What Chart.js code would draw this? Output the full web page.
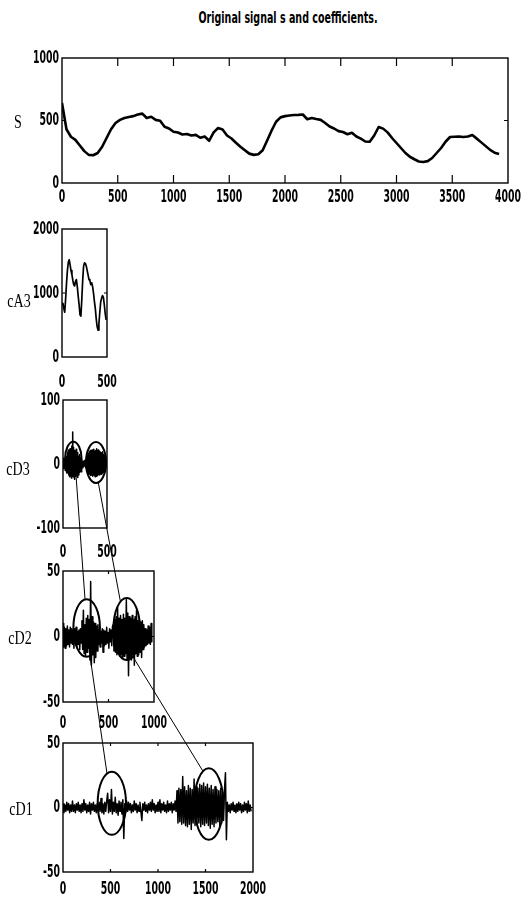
<!DOCTYPE html>
<html>
<head>
<meta charset="utf-8">
<script src="https://cdn.jsdelivr.net/npm/chart.js@4.4.1/dist/chart.umd.min.js"></script>
<style>
  html, body { margin: 0; padding: 0; background: #fff; }
  #page { position: relative; width: 528px; height: 906px; overflow: hidden; background: #fff; }
  .panel { position: absolute; }
  #overlay { position: absolute; left: 0; top: 0; z-index: 10; pointer-events: none; }
  #title {
    position: absolute; left: 128px; width: 320px; top: 8px; text-align: center; white-space: nowrap;
    font-family: 'DejaVu Sans', sans-serif; font-weight: bold;
    font-size: 15px; color: #000;
    transform: scale(0.635, 1.08); transform-origin: center top;
  }
</style>
</head>
<body>
<div id="page">
  <div id="title">Original signal s and coefficients.</div>
  <canvas id="overlay" width="528" height="906"></canvas>
</div>
<script>
// ---- signal and wavelet coefficients (sampled values) ----
const sStep = 40;
const sValues = [
  640, 430, 370, 345, 300, 255, 225, 222, 240, 290,
  360, 430, 480, 505, 520, 528, 535, 548, 555, 520,
  530, 505, 498, 450, 436, 410, 404, 388, 392, 380,
  385, 362, 372, 338, 405, 440, 428, 380, 356, 322,
  290, 262, 235, 225, 230, 262, 340, 420, 490, 525,
  535, 540, 544, 545, 548, 510, 520, 512, 505, 480,
  452, 436, 415, 408, 390, 402, 372, 355, 332, 330,
  380, 448, 435, 405, 360, 320, 280, 240, 210, 190,
  172, 168, 175, 200, 240, 280, 330, 368, 370, 372,
  368, 372, 384, 355, 325, 295, 265, 242, 232
];

const cA3Step = 10;
const cA3Values = [
  820, 840, 760, 700, 900, 1150, 1350, 1480, 1520, 1440,
  1350, 1290, 1200, 1130, 1110, 1180, 1210, 1100, 950, 820,
  660, 640, 900, 1200, 1420, 1470, 1460, 1420, 1350, 1280,
  1210, 1190, 1130, 1160, 1100, 1000, 870, 760, 600, 480,
  420, 520, 700, 860, 920, 960, 930, 820, 680, 580
];

const cD3Step = 5;
const cD3Values = [
  3, -7, 9, -5, 6, -10, 8, -4, 12,
  -14, 18, -12, 22, -17, 15, -20, 24, -16, 19,
  -22, 28, -18, 50, -15, 26, -20, 21, -24, 17,
  -19, 23, -15, 18, -21, 14, -17, 12, -13, 15,
  -10, 9, -12, 7,
  -5, 4, -6, 3, -4, 5, -3, 6, -5, 4, -6,
  8, -10, 14, -12, 17, -15, 19, -16, 21, -18,
  18, -17, 22, -19, 20, -16, 23, -18, 19, -20,
  21, -17, 24, -19, 20, -18, 22, -16, 19, -17,
  20, -15, 18, -16, 17, -14, 19, -13, 15, -12,
  13, -10, 11, -8, 6
];

const cD2Step = 8;
const cD2Values = [
  10, -8, 7, -9, 6, -7, 8, -6, 5, -8, 7, -5, 6,
  -6, 5, -9, 6, -4, 7, -8, 4, -6, 5, -10, 6, -5,
  12, -10, 20, -13, 9, -15, 14, -12, 16, -9, 13, -18, 42, -22, 15, -14, 11, -20, 10, -16, 8, -11, 9,
  -6, 5, -8, 4, -5, 6, -12, 5, -7, 4, -6, 7, -5, 3, -9, 6, -4, 5, -7, 8,
  9, -11, 13, -12, 15, -14, 22, -13, 14, -15,
  16, -14, 13, -16, 17, -15, 14, -13, 28, -17,
  18, -30, 15, -16, 14, -18, 16, -14, 13, -22,
  15, -13, 20, -15, 12, -14, 13, -12, 11, -16,
  12, -10, 9, -8,
  6, -7, 5, -6, 8, -5, 7, -6, 10, -4
];

const cD1Step = 10;
const cD1Values = [
  3, -4, 2, -3, 4, -2, 3, -4, 2, -3,
  5, -3, 2, -4, 3, -2, 4, -3, 2, -4,
  3, -3, 6, -2, 3, -4, 2, -3, 4, -5,
  3, -2, 4, -3, 2, -4, 3, -2, 4,
  -3, 7, -4, 3, -5, 4, -3, 5, 11, -4,
  6, -3, 14, -5, 4, -3, 8, -4, 3, -6,
  5, -3, 4, -5, 6, -24, 3, -4, 5, -3,
  4, -2,
  3, -4, 2, -3, 5, -2, 3, -4, 2, -3,
  4, -3, -10, 3, -2, 4, -3, 2, -4, 3,
  -2, 4, -3, 6, -2, 3, -4, 2, -3, 4,
  -3, 6, -4, 3, -2, 4, -3, 2, -4, 5,
  -3, 3, -2, 4, -4, 3, -2, 5, -3,
  13, -12, 15, -11, 14, -13, 24, -12, 16, -14,
  13, -15, 17, -13, 15, -17, 14, -12, 22, -14,
  16, -13, 15, -12, 18, -15, 17, -13, 19, -14,
  16, -12, 18, -14, 15, -16, 17, -13, 14, -15,
  16, -12, 14, -11, 13, -14, 15, -12, 12, -10,
  14, 27, -25,
  4, -3, 2, -4, 3, -2, 4, -3, 2, -4,
  3, -3, 4, -2, 3, -4, 2, -3, 4, -2,
  3, -4, 5, -3, 2, -3
];

// ---- tick labels ----
const sTicksX = [0, 500, 1000, 1500, 2000, 2500, 3000, 3500, 4000];
const sTicksY = [0, 500, 1000];
const cA3TicksX = [0, 500];
const cA3TicksY = [0, 1000, 2000];
const cD3TicksX = [0, 500];
const cD3TicksY = [-100, 0, 100];
const cD2TicksX = [0, 500, 1000];
const cD2TicksY = [-50, 0, 50];
const cD1TicksX = [0, 500, 1000, 1500, 2000];
const cD1TicksY = [-50, 0, 50];

// ---- highlighted regions (ellipses) and links between levels, in data units ----
const ellipses = [
  { panel: 'cD3', x: 117, y: 7.8, rx: 94, ry: 27 },
  { panel: 'cD3', x: 375, y: 2.3, rx: 114, ry: 32 },
  { panel: 'cD2', x: 260, y: 6.5, rx: 146, ry: 22 },
  { panel: 'cD2', x: 700, y: 5.7, rx: 146, ry: 23.7 },
  { panel: 'cD1', x: 514, y: 3.3, rx: 149, ry: 24.5 },
  { panel: 'cD1', x: 1535, y: 2.7, rx: 153, ry: 27.7 }
];
const links = [
  { from: 'cD3', fx: 148, fy: -18, to: 'cD2', tx: 242, ty: 28.3 },
  { from: 'cD3', fx: 401, fy: -29, to: 'cD2', tx: 630, ty: 27 },
  { from: 'cD2', fx: 297, fy: -15, to: 'cD1', tx: 463, ty: 26.3 },
  { from: 'cD2', fx: 769, fy: -15.5, to: 'cD1', tx: 1474, ty: 28.1 }
];

// ---- layout ----
// Narrow, tall lettering: a regular face squeezed horizontally.
const TICK_FONT = "bold 18px 'DejaVu Sans', sans-serif";
const TICK_SX = 0.52;
const LABEL_FONT = "18px 'Liberation Serif', 'DejaVu Serif', serif";
const LABEL_SX = 0.78;
const Y_AXIS_W = 58, X_AXIS_H = 40, PAD_T = 16, PAD_R = 40, PAD_B = 2;

const panels = [
  { id: 'S',   values: sValues,   step: sStep,   xMax: 4000, yMin: 0,    yMax: 1000, tx: sTicksX,   ty: sTicksY,   lw: 2.6,
    box: { l: 62, r: 508, t: 58, b: 183 },  xGap: 14, tick: { x: 8, y: 4 }, labelX: 18, labelDy: 3 },
  { id: 'cA3', values: cA3Values, step: cA3Step, xMax: 500,  yMin: 0,    yMax: 2000, tx: cA3TicksX, ty: cA3TicksY, lw: 1.7,
    box: { l: 62, r: 107, t: 229, b: 357 }, xGap: 25, tick: { x: 3, y: 3 }, labelX: 19, labelDy: 9 },
  { id: 'cD3', values: cD3Values, step: cD3Step, xMax: 500,  yMin: -100, yMax: 100,  tx: cD3TicksX, ty: cD3TicksY, lw: 1.5,
    box: { l: 63, r: 107, t: 400, b: 528 }, xGap: 24, tick: { x: 3, y: 3 }, labelX: 18, labelDy: 6 },
  { id: 'cD2', values: cD2Values, step: cD2Step, xMax: 1000, yMin: -50,  yMax: 50,   tx: cD2TicksX, ty: cD2TicksY, lw: 1.5,
    box: { l: 63, r: 154, t: 571, b: 702 }, xGap: 21, tick: { x: 3, y: 3 }, labelX: 20, labelDy: 3 },
  { id: 'cD1', values: cD1Values, step: cD1Step, xMax: 2000, yMin: -50,  yMax: 50,   tx: cD1TicksX, ty: cD1TicksY, lw: 1.5,
    box: { l: 63, r: 253, t: 743, b: 872 }, xGap: 17, tick: { x: 3, y: 3 }, labelX: 21, labelDy: 3 }
];

function squeezedText(ctx, text, x, y, sx, align) {
  ctx.save();
  ctx.translate(x, y);
  ctx.scale(sx, 1);
  ctx.textAlign = align;
  ctx.fillText(text, 0, 0);
  ctx.restore();
}

// Box, inward tick marks on all four sides, tick labels and the axis name.
const framePlugin = {
  id: 'frame',
  afterDraw(chart, args, opts) {
    const { ctx, chartArea: a, scales } = chart;
    const xs = scales.x, ys = scales.y;
    ctx.save();
    ctx.strokeStyle = '#000';
    ctx.lineWidth = 1.4;
    ctx.strokeRect(a.left, a.top, a.right - a.left, a.bottom - a.top);
    ctx.lineWidth = 1.2;
    ctx.beginPath();
    xs.ticks.forEach(t => {
      const px = xs.getPixelForValue(t.value);
      if (px <= a.left + 1 || px >= a.right - 1) return;
      ctx.moveTo(px, a.bottom); ctx.lineTo(px, a.bottom - opts.tick.x);
      ctx.moveTo(px, a.top); ctx.lineTo(px, a.top + opts.tick.x);
    });
    ys.ticks.forEach(t => {
      const py = ys.getPixelForValue(t.value);
      if (py <= a.top + 1 || py >= a.bottom - 1) return;
      ctx.moveTo(a.left, py); ctx.lineTo(a.left + opts.tick.y, py);
      ctx.moveTo(a.right, py); ctx.lineTo(a.right - opts.tick.y, py);
    });
    ctx.stroke();

    ctx.fillStyle = '#000';
    ctx.textBaseline = 'middle';
    ctx.font = TICK_FONT;
    xs.ticks.forEach(t => {
      squeezedText(ctx, String(t.value), xs.getPixelForValue(t.value), a.bottom + opts.xGap, TICK_SX, 'center');
    });
    ys.ticks.forEach(t => {
      squeezedText(ctx, String(t.value), a.left - 3, ys.getPixelForValue(t.value), TICK_SX, 'right');
    });

    ctx.font = LABEL_FONT;
    squeezedText(ctx, opts.label, opts.labelX, (a.top + a.bottom) / 2 + opts.labelDy, LABEL_SX, 'center');
    ctx.restore();
  }
};

const page = document.getElementById('page');
const charts = {};

panels.forEach(p => {
  const left = p.box.l - Y_AXIS_W;
  const top = p.box.t - PAD_T;
  const w = (p.box.r - p.box.l) + Y_AXIS_W + PAD_R;
  const h = (p.box.b - p.box.t) + PAD_T + X_AXIS_H + PAD_B;
  const div = document.createElement('div');
  div.className = 'panel';
  div.style.left = left + 'px';
  div.style.top = top + 'px';
  div.style.width = w + 'px';
  div.style.height = h + 'px';
  const cv = document.createElement('canvas');
  cv.width = w; cv.height = h;
  cv.style.width = w + 'px'; cv.style.height = h + 'px';
  div.appendChild(cv);
  page.insertBefore(div, document.getElementById('overlay'));

  const pts = p.values.map((v, i) => ({ x: i * p.step, y: v }));

  charts[p.id] = new Chart(cv, {
    type: 'line',
    data: {
      datasets: [{
        data: pts,
        borderColor: '#000',
        borderWidth: p.lw,
        pointRadius: 0,
        tension: 0,
        fill: false,
        borderJoinStyle: 'round'
      }]
    },
    options: {
      responsive: false,
      animation: false,
      devicePixelRatio: 1,
      events: [],
      parsing: false,
      normalized: true,
      layout: { padding: { top: PAD_T, right: PAD_R, bottom: PAD_B, left: 0 } },
      plugins: {
        legend: { display: false },
        tooltip: { enabled: false },
        title: { display: false },
        frame: { tick: p.tick, label: p.id, labelX: p.labelX - left, labelDy: p.labelDy, xGap: p.xGap }
      },
      scales: {
        x: {
          type: 'linear', min: 0, max: p.xMax,
          afterBuildTicks: s => { s.ticks = p.tx.map(v => ({ value: v })); },
          afterFit: s => { s.height = X_AXIS_H; },
          grid: { display: false, drawTicks: false },
          border: { display: false },
          ticks: { display: false, autoSkip: false, maxRotation: 0, minRotation: 0 }
        },
        y: {
          type: 'linear', min: p.yMin, max: p.yMax,
          afterBuildTicks: s => { s.ticks = p.ty.map(v => ({ value: v })); },
          afterFit: s => { s.width = Y_AXIS_W; },
          grid: { display: false, drawTicks: false },
          border: { display: false },
          ticks: { display: false }
        }
      }
    },
    plugins: [framePlugin]
  });
});

// Ellipses and linking lines are drawn across panels on a shared top layer.
function toPage(id, x, y) {
  const ch = charts[id];
  const r = ch.canvas.getBoundingClientRect();
  const pr = page.getBoundingClientRect();
  return {
    x: r.left - pr.left + ch.scales.x.getPixelForValue(x),
    y: r.top - pr.top + ch.scales.y.getPixelForValue(y)
  };
}

const ov = document.getElementById('overlay').getContext('2d');
ov.strokeStyle = '#000';
ov.lineWidth = 2;
ellipses.forEach(e => {
  const c = toPage(e.panel, e.x, e.y);
  const ex = toPage(e.panel, e.x + e.rx, e.y + e.ry);
  ov.beginPath();
  ov.ellipse(c.x, c.y, Math.abs(ex.x - c.x), Math.abs(ex.y - c.y), 0, 0, Math.PI * 2);
  ov.stroke();
});
ov.lineWidth = 1;
links.forEach(l => {
  const a = toPage(l.from, l.fx, l.fy);
  const b = toPage(l.to, l.tx, l.ty);
  ov.beginPath();
  ov.moveTo(a.x, a.y);
  ov.lineTo(b.x, b.y);
  ov.stroke();
});
</script>
</body>
</html>
